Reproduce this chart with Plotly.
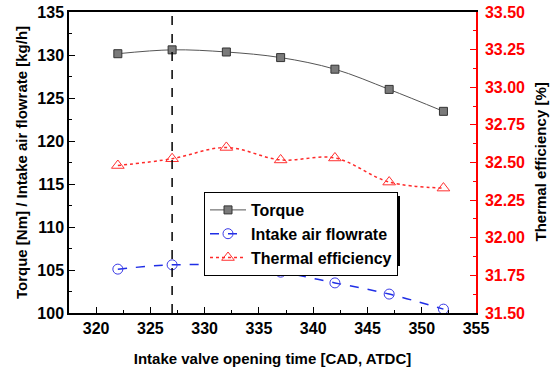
import plotly.graph_objects as go

ivo = [322, 327, 332, 337, 342, 347, 352]
torque = [130.15, 130.6, 130.35, 129.7, 128.35, 126.0, 123.45]
flowrate = [105.1, 105.6, 105.5, 104.75, 103.5, 102.2, 100.45]
thermal_eff = [32.48, 32.525, 32.60, 32.517, 32.53, 32.37, 32.33]
marker_line_x = 327

FONT = "Liberation Sans, Arial, sans-serif"
L, R, T, B = 69, 74, 12, 56
PW, PH = 550 - L - R, 369 - T - B

fig = go.Figure()

fig.add_trace(go.Scatter(
    x=ivo, y=torque, name="Torque", mode="lines+markers",
    line=dict(color="#555555", width=1, shape="spline"),
    marker=dict(symbol="square", size=8, color="#7a7a7a", line=dict(color="#333333", width=1)),
))
fig.add_trace(go.Scatter(
    x=ivo, y=flowrate, name="Intake air flowrate", mode="lines+markers",
    line=dict(color="#1f2ee6", width=1.5, dash="dash", shape="spline"),
    marker=dict(symbol="circle-open", size=10, color="#3a3ae6", line=dict(width=1)),
))
fig.add_trace(go.Scatter(
    x=ivo, y=thermal_eff, name="Thermal efficiency", mode="lines+markers", yaxis="y2",
    line=dict(color="#ff2a2a", width=1.5, dash="dot", shape="spline"),
    marker=dict(symbol="triangle-up-open", size=11, color="#ff3030", line=dict(width=1)),
))

fig.add_vline(x=marker_line_x, line=dict(color="black", width=1.5, dash="dash"))

# legend shadow
fig.add_shape(type="rect", xref="paper", yref="paper",
              x0=(208 - L) / PW, x1=(400 - L) / PW,
              y0=(369 - B - 266) / PH, y1=(369 - B - 196) / PH,
              fillcolor="black", line=dict(width=0), layer="below")

# right axis title
fig.add_annotation(text="<b>Thermal efficiency [%]</b>", xref="paper", yref="paper",
                   x=(540 - L) / PW, y=0.5, xanchor="center", yanchor="middle",
                   textangle=-90, showarrow=False,
                   font=dict(family=FONT, size=15, color="black"))

tickfont = dict(family=FONT, size=16, color="black")

fig.update_layout(
    width=550, height=369,
    margin=dict(l=L, r=R, t=T, b=B, autoexpand=False),
    paper_bgcolor="white", plot_bgcolor="white",
    font=dict(family=FONT),
    showlegend=True,
    legend=dict(x=(204 - L) / PW, y=(369 - B - 192) / PH, xanchor="left", yanchor="top",
                bgcolor="white", bordercolor="black", borderwidth=1,
                font=dict(family=FONT, size=16, color="black"),
                tracegroupgap=0, itemwidth=36),
    xaxis=dict(range=[317.5, 355], dtick=5, tick0=320, ticks="inside", ticklen=6,
               tickcolor="black", showline=True, linecolor="black", linewidth=1.5,
               mirror=True, showgrid=False, zeroline=False, tickfont=tickfont,
               tickprefix="<b>", ticksuffix="</b>", automargin=False,
               minor=dict(dtick=2.5, ticks="inside", ticklen=3, tickcolor="black"),
               title=dict(text="<b>Intake valve opening time [CAD, ATDC]</b>",
                          font=dict(family=FONT, size=15, color="black"),
                          standoff=18)),
    yaxis=dict(range=[100, 135], dtick=5, ticks="inside", ticklen=6,
               tickcolor="black", showline=True, linecolor="black", linewidth=1.5,
               showgrid=False, zeroline=False, tickfont=tickfont,
               tickprefix="<b>", ticksuffix="</b>", automargin=False,
               minor=dict(dtick=2.5, ticks="inside", ticklen=3, tickcolor="black"),
               title=dict(text="<b>Torque [Nm] / Intake air flowrate [kg/h]</b>",
                          font=dict(family=FONT, size=15, color="black"),
                          standoff=6)),
    yaxis2=dict(range=[31.5, 33.5], dtick=0.25, tickformat=".2f", overlaying="y", side="right",
                ticks="inside", ticklen=6, tickcolor="red", showline=True, linecolor="red",
                linewidth=1.5, showgrid=False, zeroline=False, automargin=False,
                tickprefix="<b>", ticksuffix="</b>", ticklabelstandoff=4,
                tickfont=dict(family=FONT, size=16, color="red"),
                minor=dict(dtick=0.125, ticks="inside", ticklen=3, tickcolor="red")),
)

for tr in fig.data:
    tr.name = "<b>" + tr.name + "</b>"

fig.write_html("out.html", config={"displayModeBar": False},
               post_script="document.body.style.margin='0';document.body.style.padding='0';")
